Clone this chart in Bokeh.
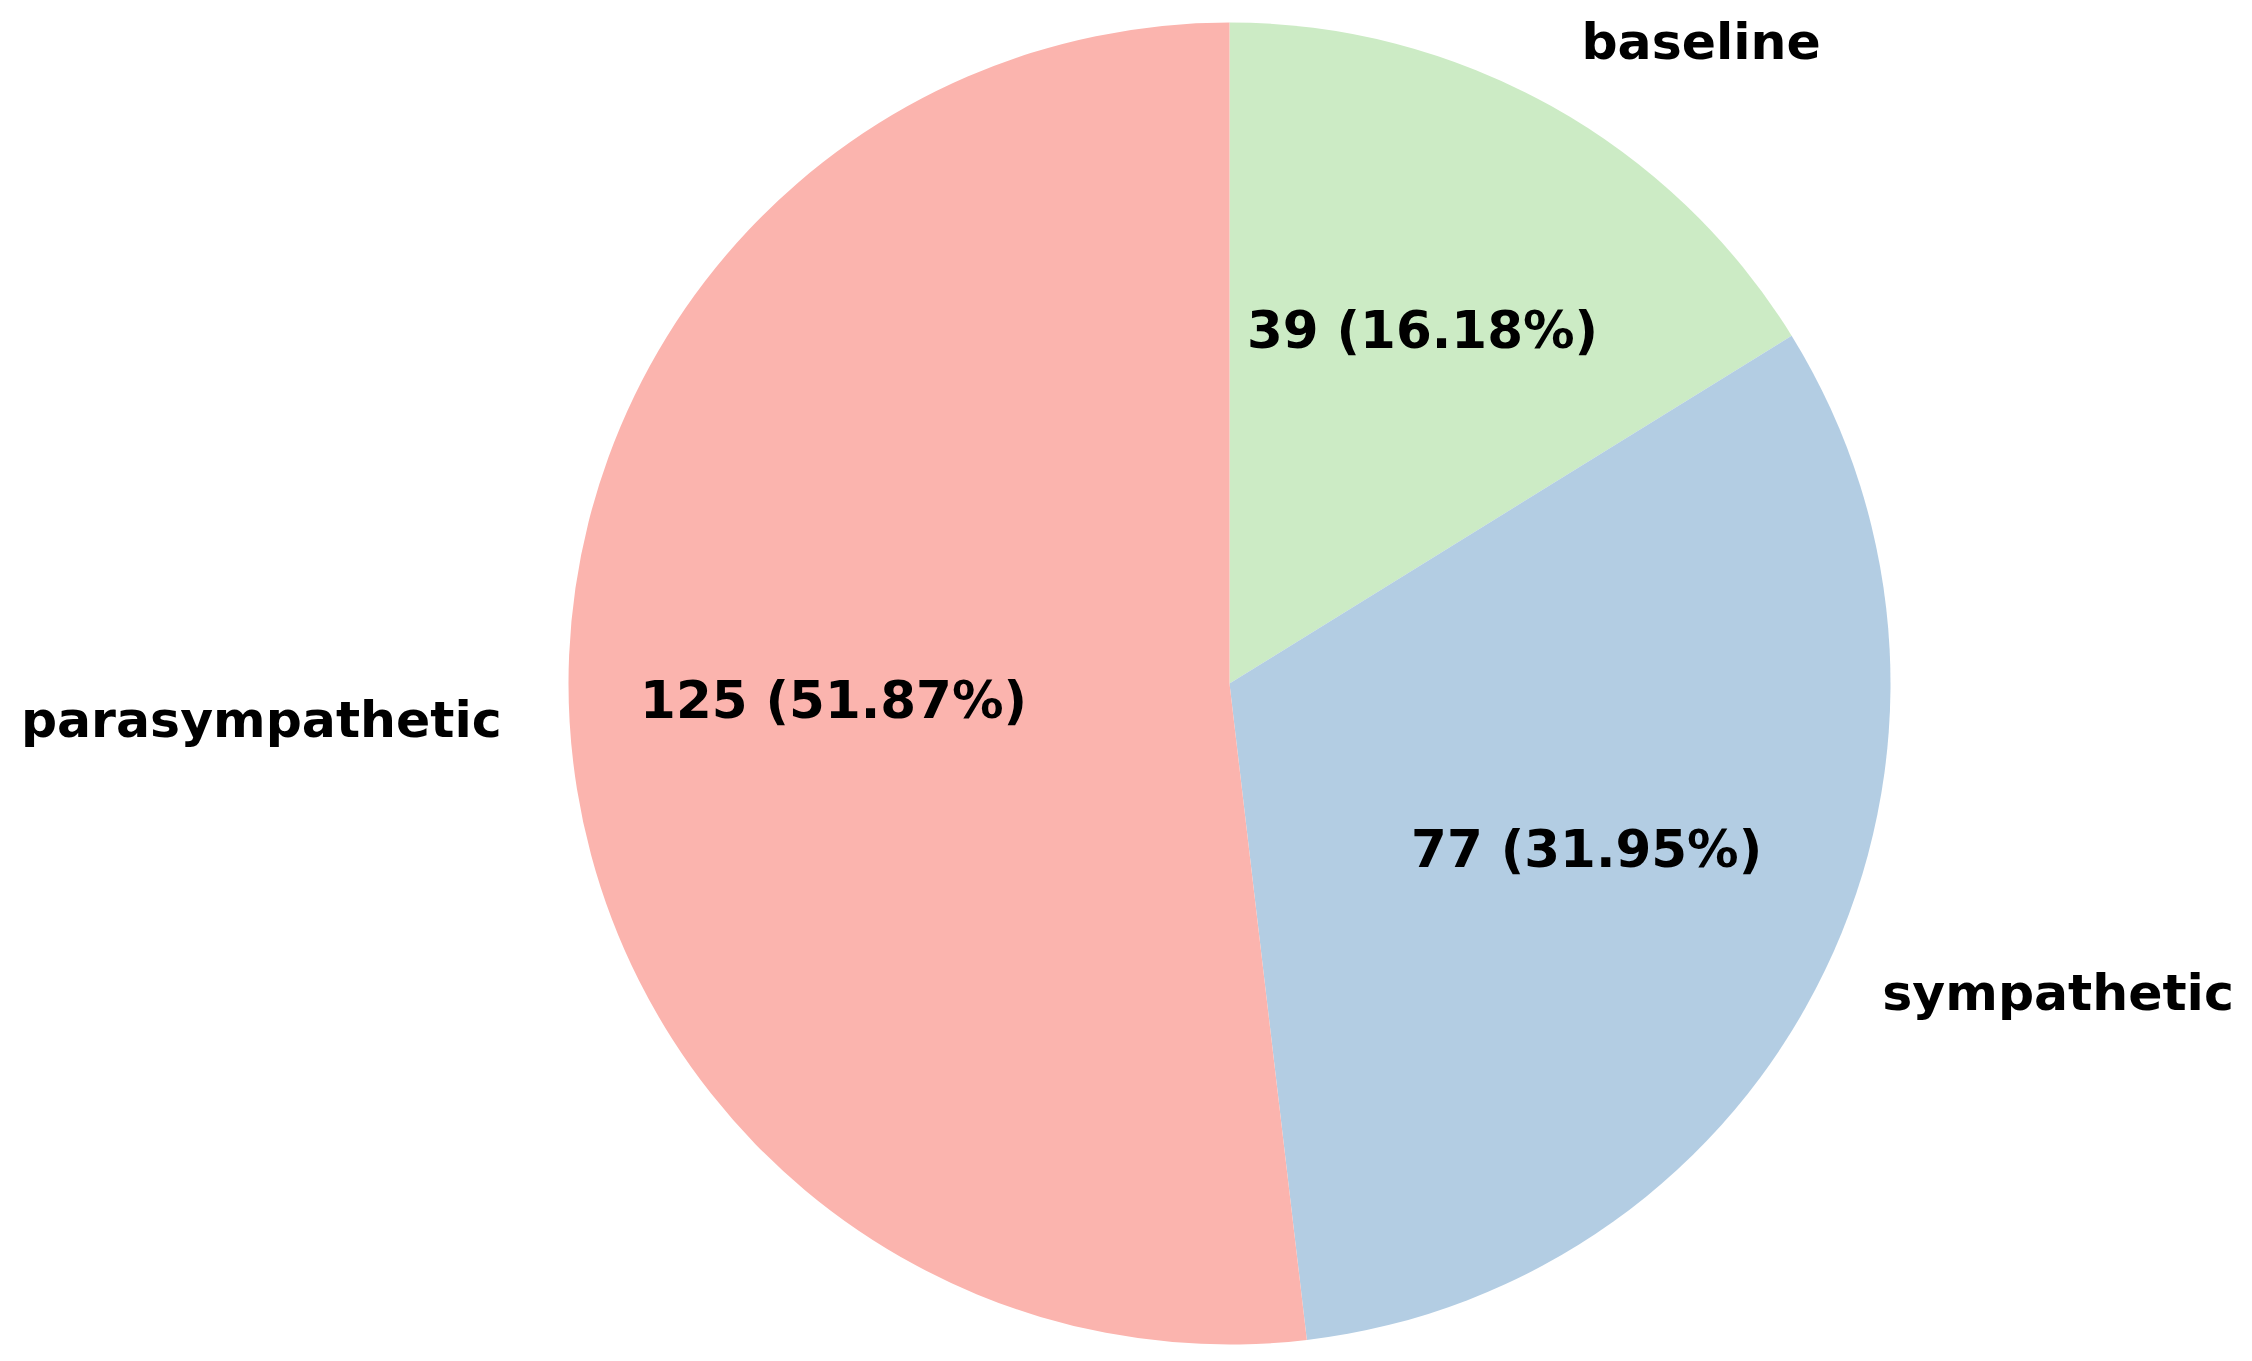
import math
from bokeh.plotting import figure
from bokeh.models import ColumnDataSource, Range1d
from bokeh.core.properties import value
from bokeh.embed import file_html
from bokeh.resources import INLINE

categories = ["baseline", "sympathetic", "parasympathetic"]
counts = [39, 77, 125]
colors = ["#ccebc5", "#b3cde3", "#fbb4ae"]

W, H = 2236, 1345
R_PX = 661.0
CX, CY = 1229.0, 683.0  # pie centre in figure pixels (from top-left)

total = sum(counts)
starts, ends, mids = [], [], []
a = math.pi / 2
for c in counts:
    sweep = 2 * math.pi * c / total
    starts.append(a)
    ends.append(a - sweep)
    mids.append(a - sweep / 2)
    a -= sweep

src = ColumnDataSource(dict(start=starts, end=ends, color=colors))

p = figure(width=W, height=H, output_backend="svg", toolbar_location=None,
           x_range=Range1d(-CX / R_PX, (W - CX) / R_PX),
           y_range=Range1d(-(H - CY) / R_PX, CY / R_PX),
           min_border=0)
p.axis.visible = False
p.grid.visible = False
p.outline_line_color = None
p.background_fill_color = "white"

p.wedge(x=0, y=0, radius=1.0, start_angle="start", end_angle="end",
        direction="clock", fill_color="color", line_color=None, source=src)

# category labels (outside, distance 1.1)
lx = [1.1 * math.cos(m) for m in mids]
ly = [1.1 * math.sin(m) for m in mids]
align = ["left" if x >= 0 else "right" for x in lx]
lab_src = ColumnDataSource(dict(x=lx, y=ly, t=categories, align=align))
p.text(x="x", y="y", text="t", text_align="align", text_baseline="middle",
       y_offset=-7, x_offset=-2,
       text_font=value("DejaVu Sans"), text_font_style="bold",
       text_font_size="50.5px", text_color="black", source=lab_src)

# value labels (inside, distance 0.6)
px = [0.6 * math.cos(m) for m in mids]
py = [0.6 * math.sin(m) for m in mids]
pt = [f"{c} ({100 * c / total:.2f}%)" for c in counts]
pct_src = ColumnDataSource(dict(x=px, y=py, t=pt))
p.text(x="x", y="y", text="t", text_align="center", text_baseline="middle",
       y_offset=-7,
       text_font=value("DejaVu Sans"), text_font_style="bold",
       text_font_size="51.5px", text_color="black", source=pct_src)

open("out.html", "w").write(file_html(p, INLINE))
